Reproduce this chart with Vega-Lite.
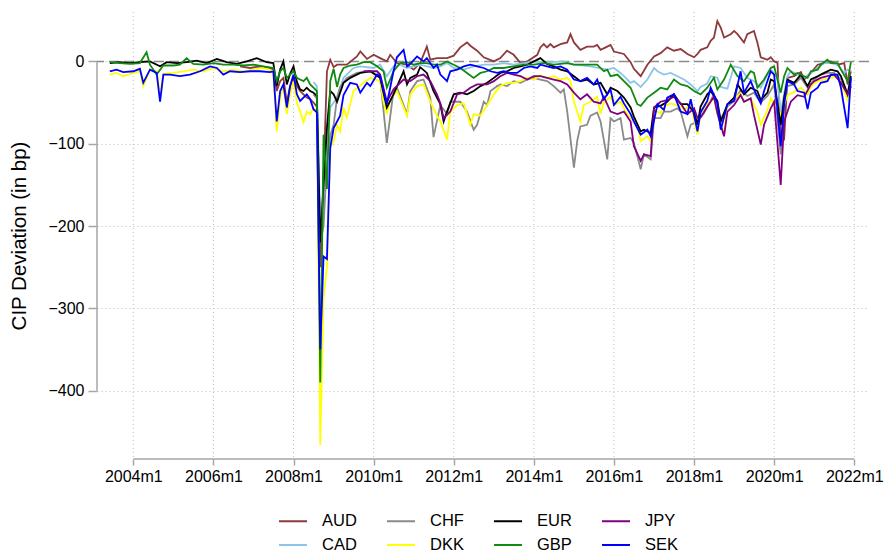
{
"$schema":"https://vega.github.io/schema/vega-lite/v6.json",
"width":772,"height":447,
"autosize":{"type":"none"},
"padding":{"left":97,"top":12,"right":16,"bottom":97},
"background":"white",
"config":{
 "font":"Liberation Sans",
 "view":{"stroke":null},
 "axis":{"domain":false,"grid":false,"gridColor":"#bdbdbd","gridDash":[1,3],"gridWidth":1,"tickColor":"#a6a6a6","tickWidth":1.5,"labelColor":"#000000","labelFontSize":16,"labelFont":"Liberation Sans","titleColor":"#000000","titleFont":"Liberation Sans","titleFontWeight":"normal"},
 "axisX":{"tickSize":6,"labelPadding":3},
 "axisY":{"tickSize":9,"labelPadding":4}
},
"layer":[
{"data":{"format":{"parse":{"g":"date:'%Y-%m'"}},"values":[{"g":"2004-01"},{"g":"2006-01"},{"g":"2008-01"},{"g":"2010-01"},{"g":"2012-01"},{"g":"2014-01"},{"g":"2016-01"},{"g":"2018-01"},{"g":"2020-01"},{"g":"2022-01"}]},"mark":{"type":"rule","color":"#bdbdbd","strokeDash":[1,3],"strokeWidth":1},"encoding":{"x":{"field":"g","type":"temporal"}}},
{"data":{"values":[{}]},"mark":{"type":"rule","color":"#8c8c8c","strokeDash":[10,5],"strokeWidth":1.5},"encoding":{"y":{"datum":0}}},
{"data":{"format":{"parse":{"t":"date:'%Y-%m'"}},"values":[
{"c":"AUD","t":"2006-09","v":-6},{"c":"AUD","t":"2006-12","v":-8},{"c":"AUD","t":"2007-03","v":-6},{"c":"AUD","t":"2007-06","v":-8},{"c":"AUD","t":"2007-07","v":-10},{"c":"AUD","t":"2007-08","v":-36},{"c":"AUD","t":"2007-09","v":-24},{"c":"AUD","t":"2007-10","v":-20},{"c":"AUD","t":"2007-11","v":-50},{"c":"AUD","t":"2007-12","v":-30},{"c":"AUD","t":"2008-01","v":-20},{"c":"AUD","t":"2008-02","v":-30},{"c":"AUD","t":"2008-03","v":-36},{"c":"AUD","t":"2008-04","v":-40},{"c":"AUD","t":"2008-05","v":-44},{"c":"AUD","t":"2008-06","v":-46},{"c":"AUD","t":"2008-07","v":-50},{"c":"AUD","t":"2008-08","v":-55},{"c":"AUD","t":"2008-09","v":-250},{"c":"AUD","t":"2008-10","v":-140},{"c":"AUD","t":"2008-11","v":-12},{"c":"AUD","t":"2008-12","v":2},{"c":"AUD","t":"2009-01","v":-7},{"c":"AUD","t":"2009-02","v":-4},{"c":"AUD","t":"2009-05","v":-4},{"c":"AUD","t":"2009-08","v":6},{"c":"AUD","t":"2009-09","v":12},{"c":"AUD","t":"2009-11","v":3},{"c":"AUD","t":"2010-01","v":8},{"c":"AUD","t":"2010-03","v":4},{"c":"AUD","t":"2010-05","v":0},{"c":"AUD","t":"2010-06","v":8},{"c":"AUD","t":"2010-08","v":-2},{"c":"AUD","t":"2010-11","v":-4},{"c":"AUD","t":"2011-01","v":-10},{"c":"AUD","t":"2011-03","v":-2},{"c":"AUD","t":"2011-05","v":18},{"c":"AUD","t":"2011-06","v":2},{"c":"AUD","t":"2011-08","v":4},{"c":"AUD","t":"2011-11","v":4},{"c":"AUD","t":"2012-01","v":7},{"c":"AUD","t":"2012-03","v":17},{"c":"AUD","t":"2012-05","v":23},{"c":"AUD","t":"2012-06","v":19},{"c":"AUD","t":"2012-08","v":13},{"c":"AUD","t":"2012-10","v":5},{"c":"AUD","t":"2013-01","v":0},{"c":"AUD","t":"2013-03","v":4},{"c":"AUD","t":"2013-05","v":13},{"c":"AUD","t":"2013-07","v":8},{"c":"AUD","t":"2013-09","v":-2},{"c":"AUD","t":"2013-11","v":0},{"c":"AUD","t":"2014-02","v":8},{"c":"AUD","t":"2014-03","v":17},{"c":"AUD","t":"2014-04","v":21},{"c":"AUD","t":"2014-05","v":17},{"c":"AUD","t":"2014-06","v":21},{"c":"AUD","t":"2014-07","v":17},{"c":"AUD","t":"2014-09","v":21},{"c":"AUD","t":"2014-11","v":23},{"c":"AUD","t":"2014-12","v":33},{"c":"AUD","t":"2015-01","v":23},{"c":"AUD","t":"2015-03","v":14},{"c":"AUD","t":"2015-05","v":18},{"c":"AUD","t":"2015-07","v":18},{"c":"AUD","t":"2015-08","v":20},{"c":"AUD","t":"2015-09","v":14},{"c":"AUD","t":"2015-11","v":18},{"c":"AUD","t":"2015-12","v":20},{"c":"AUD","t":"2016-01","v":12},{"c":"AUD","t":"2016-04","v":9},{"c":"AUD","t":"2016-06","v":-1},{"c":"AUD","t":"2016-07","v":-9},{"c":"AUD","t":"2016-09","v":-18},{"c":"AUD","t":"2016-11","v":-4},{"c":"AUD","t":"2017-01","v":6},{"c":"AUD","t":"2017-03","v":10},{"c":"AUD","t":"2017-05","v":17},{"c":"AUD","t":"2017-07","v":13},{"c":"AUD","t":"2017-09","v":15},{"c":"AUD","t":"2017-11","v":9},{"c":"AUD","t":"2018-01","v":5},{"c":"AUD","t":"2018-02","v":9},{"c":"AUD","t":"2018-03","v":14},{"c":"AUD","t":"2018-05","v":17},{"c":"AUD","t":"2018-06","v":25},{"c":"AUD","t":"2018-07","v":29},{"c":"AUD","t":"2018-08","v":49},{"c":"AUD","t":"2018-09","v":41},{"c":"AUD","t":"2018-10","v":29},{"c":"AUD","t":"2018-12","v":33},{"c":"AUD","t":"2019-01","v":37},{"c":"AUD","t":"2019-02","v":33},{"c":"AUD","t":"2019-04","v":23},{"c":"AUD","t":"2019-05","v":33},{"c":"AUD","t":"2019-07","v":37},{"c":"AUD","t":"2019-08","v":23},{"c":"AUD","t":"2019-09","v":5},{"c":"AUD","t":"2019-11","v":2},{"c":"AUD","t":"2019-12","v":5},{"c":"AUD","t":"2020-01","v":0},{"c":"AUD","t":"2020-02","v":-2},{"c":"AUD","t":"2020-03","v":-95},{"c":"AUD","t":"2020-04","v":-95},{"c":"AUD","t":"2020-05","v":-20},{"c":"AUD","t":"2020-07","v":-18},{"c":"AUD","t":"2020-09","v":-13},{"c":"AUD","t":"2020-10","v":-22},{"c":"AUD","t":"2020-12","v":-14},{"c":"AUD","t":"2021-02","v":-4},{"c":"AUD","t":"2021-04","v":-2},{"c":"AUD","t":"2021-06","v":0},{"c":"AUD","t":"2021-08","v":-4},{"c":"AUD","t":"2021-10","v":-2},{"c":"AUD","t":"2021-11","v":-28},{"c":"AUD","t":"2021-12","v":-12},
{"c":"CAD","t":"2008-07","v":-25},{"c":"CAD","t":"2008-08","v":-30},{"c":"CAD","t":"2008-09","v":-200},{"c":"CAD","t":"2008-10","v":-185},{"c":"CAD","t":"2008-11","v":-100},{"c":"CAD","t":"2008-12","v":-56},{"c":"CAD","t":"2009-02","v":-44},{"c":"CAD","t":"2009-04","v":-20},{"c":"CAD","t":"2009-07","v":-8},{"c":"CAD","t":"2009-09","v":-6},{"c":"CAD","t":"2010-01","v":-8},{"c":"CAD","t":"2010-03","v":-4},{"c":"CAD","t":"2010-05","v":-18},{"c":"CAD","t":"2010-07","v":-6},{"c":"CAD","t":"2010-09","v":-4},{"c":"CAD","t":"2010-11","v":-8},{"c":"CAD","t":"2011-01","v":-6},{"c":"CAD","t":"2011-03","v":-4},{"c":"CAD","t":"2011-05","v":-6},{"c":"CAD","t":"2011-07","v":-8},{"c":"CAD","t":"2011-09","v":-6},{"c":"CAD","t":"2011-11","v":-2},{"c":"CAD","t":"2012-01","v":-8},{"c":"CAD","t":"2012-04","v":-10},{"c":"CAD","t":"2012-07","v":-6},{"c":"CAD","t":"2012-10","v":-4},{"c":"CAD","t":"2013-01","v":-4},{"c":"CAD","t":"2013-04","v":-2},{"c":"CAD","t":"2013-07","v":-4},{"c":"CAD","t":"2013-10","v":-2},{"c":"CAD","t":"2014-01","v":0},{"c":"CAD","t":"2014-03","v":-1},{"c":"CAD","t":"2014-06","v":-1},{"c":"CAD","t":"2014-10","v":0},{"c":"CAD","t":"2015-01","v":-4},{"c":"CAD","t":"2015-06","v":-6},{"c":"CAD","t":"2015-11","v":-10},{"c":"CAD","t":"2016-01","v":-8},{"c":"CAD","t":"2016-03","v":-14},{"c":"CAD","t":"2016-04","v":-18},{"c":"CAD","t":"2016-06","v":-26},{"c":"CAD","t":"2016-07","v":-24},{"c":"CAD","t":"2016-09","v":-31},{"c":"CAD","t":"2016-11","v":-22},{"c":"CAD","t":"2017-01","v":-8},{"c":"CAD","t":"2017-02","v":-12},{"c":"CAD","t":"2017-04","v":-16},{"c":"CAD","t":"2017-06","v":-14},{"c":"CAD","t":"2017-08","v":-18},{"c":"CAD","t":"2017-10","v":-22},{"c":"CAD","t":"2017-12","v":-28},{"c":"CAD","t":"2018-02","v":-36},{"c":"CAD","t":"2018-03","v":-31},{"c":"CAD","t":"2018-05","v":-27},{"c":"CAD","t":"2018-06","v":-18},{"c":"CAD","t":"2018-08","v":-20},{"c":"CAD","t":"2018-09","v":-31},{"c":"CAD","t":"2018-11","v":-33},{"c":"CAD","t":"2019-01","v":-6},{"c":"CAD","t":"2019-03","v":-8},{"c":"CAD","t":"2019-05","v":-20},{"c":"CAD","t":"2019-07","v":-24},{"c":"CAD","t":"2019-09","v":-32},{"c":"CAD","t":"2019-11","v":-16},{"c":"CAD","t":"2019-12","v":-10},{"c":"CAD","t":"2020-02","v":-20},{"c":"CAD","t":"2020-03","v":-64},{"c":"CAD","t":"2020-04","v":-39},{"c":"CAD","t":"2020-05","v":-18},{"c":"CAD","t":"2020-06","v":-12},{"c":"CAD","t":"2020-08","v":-16},{"c":"CAD","t":"2020-10","v":-20},{"c":"CAD","t":"2020-12","v":-14},{"c":"CAD","t":"2021-02","v":-8},{"c":"CAD","t":"2021-04","v":-2},{"c":"CAD","t":"2021-06","v":-2},{"c":"CAD","t":"2021-08","v":-4},{"c":"CAD","t":"2021-10","v":-14},{"c":"CAD","t":"2021-11","v":-10},{"c":"CAD","t":"2021-12","v":-12},
{"c":"CHF","t":"2008-07","v":-40},{"c":"CHF","t":"2008-08","v":-45},{"c":"CHF","t":"2008-09","v":-220},{"c":"CHF","t":"2008-10","v":-200},{"c":"CHF","t":"2008-11","v":-120},{"c":"CHF","t":"2008-12","v":-90},{"c":"CHF","t":"2009-01","v":-77},{"c":"CHF","t":"2009-02","v":-44},{"c":"CHF","t":"2009-03","v":-31},{"c":"CHF","t":"2009-05","v":-20},{"c":"CHF","t":"2009-08","v":-14},{"c":"CHF","t":"2009-12","v":-12},{"c":"CHF","t":"2010-03","v":-20},{"c":"CHF","t":"2010-05","v":-99},{"c":"CHF","t":"2010-07","v":-36},{"c":"CHF","t":"2010-08","v":-32},{"c":"CHF","t":"2010-11","v":-64},{"c":"CHF","t":"2010-12","v":-36},{"c":"CHF","t":"2011-02","v":-24},{"c":"CHF","t":"2011-04","v":-22},{"c":"CHF","t":"2011-06","v":-44},{"c":"CHF","t":"2011-07","v":-92},{"c":"CHF","t":"2011-09","v":-53},{"c":"CHF","t":"2011-11","v":-64},{"c":"CHF","t":"2011-12","v":-49},{"c":"CHF","t":"2012-03","v":-49},{"c":"CHF","t":"2012-05","v":-61},{"c":"CHF","t":"2012-07","v":-83},{"c":"CHF","t":"2012-08","v":-77},{"c":"CHF","t":"2012-10","v":-49},{"c":"CHF","t":"2012-11","v":-53},{"c":"CHF","t":"2012-12","v":-36},{"c":"CHF","t":"2013-02","v":-30},{"c":"CHF","t":"2013-03","v":-28},{"c":"CHF","t":"2013-05","v":-30},{"c":"CHF","t":"2013-07","v":-24},{"c":"CHF","t":"2013-09","v":-26},{"c":"CHF","t":"2013-11","v":-22},{"c":"CHF","t":"2014-01","v":-20},{"c":"CHF","t":"2014-03","v":-22},{"c":"CHF","t":"2014-05","v":-24},{"c":"CHF","t":"2014-07","v":-30},{"c":"CHF","t":"2014-09","v":-38},{"c":"CHF","t":"2014-10","v":-34},{"c":"CHF","t":"2014-11","v":-61},{"c":"CHF","t":"2015-01","v":-129},{"c":"CHF","t":"2015-02","v":-96},{"c":"CHF","t":"2015-03","v":-79},{"c":"CHF","t":"2015-05","v":-77},{"c":"CHF","t":"2015-06","v":-66},{"c":"CHF","t":"2015-08","v":-62},{"c":"CHF","t":"2015-09","v":-73},{"c":"CHF","t":"2015-11","v":-119},{"c":"CHF","t":"2015-12","v":-69},{"c":"CHF","t":"2016-01","v":-73},{"c":"CHF","t":"2016-03","v":-69},{"c":"CHF","t":"2016-04","v":-95},{"c":"CHF","t":"2016-06","v":-93},{"c":"CHF","t":"2016-07","v":-99},{"c":"CHF","t":"2016-09","v":-131},{"c":"CHF","t":"2016-10","v":-113},{"c":"CHF","t":"2016-12","v":-119},{"c":"CHF","t":"2017-01","v":-69},{"c":"CHF","t":"2017-03","v":-69},{"c":"CHF","t":"2017-04","v":-61},{"c":"CHF","t":"2017-06","v":-61},{"c":"CHF","t":"2017-08","v":-57},{"c":"CHF","t":"2017-09","v":-61},{"c":"CHF","t":"2017-11","v":-91},{"c":"CHF","t":"2017-12","v":-77},{"c":"CHF","t":"2018-02","v":-73},{"c":"CHF","t":"2018-04","v":-63},{"c":"CHF","t":"2018-05","v":-55},{"c":"CHF","t":"2018-07","v":-40},{"c":"CHF","t":"2018-09","v":-70},{"c":"CHF","t":"2018-11","v":-55},{"c":"CHF","t":"2019-01","v":-48},{"c":"CHF","t":"2019-03","v":-35},{"c":"CHF","t":"2019-05","v":-42},{"c":"CHF","t":"2019-07","v":-38},{"c":"CHF","t":"2019-09","v":-50},{"c":"CHF","t":"2019-11","v":-42},{"c":"CHF","t":"2020-01","v":-28},{"c":"CHF","t":"2020-03","v":-113},{"c":"CHF","t":"2020-04","v":-50},{"c":"CHF","t":"2020-05","v":-30},{"c":"CHF","t":"2020-07","v":-28},{"c":"CHF","t":"2020-09","v":-20},{"c":"CHF","t":"2020-11","v":-32},{"c":"CHF","t":"2021-01","v":-22},{"c":"CHF","t":"2021-03","v":-16},{"c":"CHF","t":"2021-05","v":-14},{"c":"CHF","t":"2021-07","v":-14},{"c":"CHF","t":"2021-09","v":-22},{"c":"CHF","t":"2021-11","v":-42},{"c":"CHF","t":"2021-12","v":-22},
{"c":"DKK","t":"2003-06","v":-16},{"c":"DKK","t":"2003-08","v":-14},{"c":"DKK","t":"2003-10","v":-18},{"c":"DKK","t":"2004-01","v":-14},{"c":"DKK","t":"2004-03","v":-12},{"c":"DKK","t":"2004-04","v":-30},{"c":"DKK","t":"2004-06","v":-10},{"c":"DKK","t":"2004-08","v":-12},{"c":"DKK","t":"2004-09","v":-40},{"c":"DKK","t":"2004-10","v":-15},{"c":"DKK","t":"2005-01","v":-14},{"c":"DKK","t":"2005-04","v":-12},{"c":"DKK","t":"2005-07","v":-10},{"c":"DKK","t":"2005-10","v":-12},{"c":"DKK","t":"2006-01","v":-8},{"c":"DKK","t":"2006-04","v":-12},{"c":"DKK","t":"2006-07","v":-10},{"c":"DKK","t":"2006-10","v":-12},{"c":"DKK","t":"2007-01","v":-10},{"c":"DKK","t":"2007-04","v":-8},{"c":"DKK","t":"2007-07","v":-12},{"c":"DKK","t":"2007-08","v":-85},{"c":"DKK","t":"2007-09","v":-44},{"c":"DKK","t":"2007-10","v":-30},{"c":"DKK","t":"2007-11","v":-64},{"c":"DKK","t":"2007-12","v":-40},{"c":"DKK","t":"2008-01","v":-24},{"c":"DKK","t":"2008-02","v":-50},{"c":"DKK","t":"2008-03","v":-61},{"c":"DKK","t":"2008-04","v":-74},{"c":"DKK","t":"2008-05","v":-61},{"c":"DKK","t":"2008-06","v":-64},{"c":"DKK","t":"2008-07","v":-57},{"c":"DKK","t":"2008-08","v":-62},{"c":"DKK","t":"2008-09","v":-466},{"c":"DKK","t":"2008-10","v":-286},{"c":"DKK","t":"2008-11","v":-250},{"c":"DKK","t":"2008-12","v":-105},{"c":"DKK","t":"2009-01","v":-97},{"c":"DKK","t":"2009-02","v":-77},{"c":"DKK","t":"2009-03","v":-85},{"c":"DKK","t":"2009-04","v":-56},{"c":"DKK","t":"2009-05","v":-68},{"c":"DKK","t":"2009-07","v":-36},{"c":"DKK","t":"2009-10","v":-26},{"c":"DKK","t":"2009-12","v":-20},{"c":"DKK","t":"2010-03","v":-24},{"c":"DKK","t":"2010-04","v":-49},{"c":"DKK","t":"2010-05","v":-64},{"c":"DKK","t":"2010-06","v":-46},{"c":"DKK","t":"2010-08","v":-36},{"c":"DKK","t":"2010-11","v":-66},{"c":"DKK","t":"2010-12","v":-40},{"c":"DKK","t":"2011-02","v":-30},{"c":"DKK","t":"2011-04","v":-28},{"c":"DKK","t":"2011-06","v":-49},{"c":"DKK","t":"2011-08","v":-66},{"c":"DKK","t":"2011-09","v":-73},{"c":"DKK","t":"2011-11","v":-95},{"c":"DKK","t":"2011-12","v":-61},{"c":"DKK","t":"2012-02","v":-53},{"c":"DKK","t":"2012-04","v":-51},{"c":"DKK","t":"2012-06","v":-77},{"c":"DKK","t":"2012-07","v":-64},{"c":"DKK","t":"2012-09","v":-66},{"c":"DKK","t":"2012-11","v":-53},{"c":"DKK","t":"2013-01","v":-40},{"c":"DKK","t":"2013-03","v":-30},{"c":"DKK","t":"2013-05","v":-26},{"c":"DKK","t":"2013-07","v":-26},{"c":"DKK","t":"2013-09","v":-24},{"c":"DKK","t":"2013-11","v":-20},{"c":"DKK","t":"2014-01","v":-22},{"c":"DKK","t":"2014-03","v":-17},{"c":"DKK","t":"2014-05","v":-20},{"c":"DKK","t":"2014-07","v":-18},{"c":"DKK","t":"2014-09","v":-22},{"c":"DKK","t":"2014-11","v":-20},{"c":"DKK","t":"2014-12","v":-24},{"c":"DKK","t":"2015-01","v":-49},{"c":"DKK","t":"2015-03","v":-73},{"c":"DKK","t":"2015-04","v":-53},{"c":"DKK","t":"2015-06","v":-49},{"c":"DKK","t":"2015-08","v":-43},{"c":"DKK","t":"2015-09","v":-64},{"c":"DKK","t":"2015-10","v":-50},{"c":"DKK","t":"2015-12","v":-43},{"c":"DKK","t":"2016-01","v":-53},{"c":"DKK","t":"2016-03","v":-49},{"c":"DKK","t":"2016-05","v":-64},{"c":"DKK","t":"2016-07","v":-73},{"c":"DKK","t":"2016-08","v":-77},{"c":"DKK","t":"2016-09","v":-97},{"c":"DKK","t":"2016-11","v":-91},{"c":"DKK","t":"2016-12","v":-97},{"c":"DKK","t":"2017-01","v":-59},{"c":"DKK","t":"2017-03","v":-63},{"c":"DKK","t":"2017-04","v":-55},{"c":"DKK","t":"2017-06","v":-51},{"c":"DKK","t":"2017-09","v":-55},{"c":"DKK","t":"2017-10","v":-59},{"c":"DKK","t":"2017-12","v":-53},{"c":"DKK","t":"2018-02","v":-89},{"c":"DKK","t":"2018-03","v":-63},{"c":"DKK","t":"2018-05","v":-51},{"c":"DKK","t":"2018-07","v":-45},{"c":"DKK","t":"2018-08","v":-63},{"c":"DKK","t":"2018-10","v":-89},{"c":"DKK","t":"2018-11","v":-53},{"c":"DKK","t":"2019-01","v":-45},{"c":"DKK","t":"2019-03","v":-39},{"c":"DKK","t":"2019-04","v":-49},{"c":"DKK","t":"2019-06","v":-45},{"c":"DKK","t":"2019-08","v":-61},{"c":"DKK","t":"2019-09","v":-77},{"c":"DKK","t":"2019-11","v":-59},{"c":"DKK","t":"2019-12","v":-45},{"c":"DKK","t":"2020-02","v":-57},{"c":"DKK","t":"2020-03","v":-65},{"c":"DKK","t":"2020-05","v":-41},{"c":"DKK","t":"2020-07","v":-37},{"c":"DKK","t":"2020-09","v":-32},{"c":"DKK","t":"2020-11","v":-41},{"c":"DKK","t":"2020-12","v":-30},{"c":"DKK","t":"2021-02","v":-24},{"c":"DKK","t":"2021-04","v":-22},{"c":"DKK","t":"2021-06","v":-20},{"c":"DKK","t":"2021-08","v":-18},{"c":"DKK","t":"2021-09","v":-26},{"c":"DKK","t":"2021-11","v":-47},{"c":"DKK","t":"2021-12","v":-30},
{"c":"EUR","t":"2003-06","v":-2},{"c":"EUR","t":"2003-09","v":-1},{"c":"EUR","t":"2003-12","v":-2},{"c":"EUR","t":"2004-03","v":-1},{"c":"EUR","t":"2004-06","v":0},{"c":"EUR","t":"2004-09","v":-6},{"c":"EUR","t":"2004-11","v":-1},{"c":"EUR","t":"2005-02","v":-2},{"c":"EUR","t":"2005-05","v":-1},{"c":"EUR","t":"2005-08","v":1},{"c":"EUR","t":"2005-11","v":-2},{"c":"EUR","t":"2006-02","v":3},{"c":"EUR","t":"2006-05","v":-1},{"c":"EUR","t":"2006-08","v":-3},{"c":"EUR","t":"2006-11","v":0},{"c":"EUR","t":"2007-02","v":4},{"c":"EUR","t":"2007-05","v":-1},{"c":"EUR","t":"2007-07","v":-2},{"c":"EUR","t":"2007-08","v":-30},{"c":"EUR","t":"2007-09","v":-10},{"c":"EUR","t":"2007-10","v":0},{"c":"EUR","t":"2007-11","v":-28},{"c":"EUR","t":"2007-12","v":-15},{"c":"EUR","t":"2008-01","v":-6},{"c":"EUR","t":"2008-02","v":-25},{"c":"EUR","t":"2008-03","v":-34},{"c":"EUR","t":"2008-04","v":-36},{"c":"EUR","t":"2008-05","v":-32},{"c":"EUR","t":"2008-06","v":-36},{"c":"EUR","t":"2008-07","v":-38},{"c":"EUR","t":"2008-08","v":-42},{"c":"EUR","t":"2008-09","v":-220},{"c":"EUR","t":"2008-10","v":-150},{"c":"EUR","t":"2008-11","v":-80},{"c":"EUR","t":"2008-12","v":-36},{"c":"EUR","t":"2009-01","v":-40},{"c":"EUR","t":"2009-02","v":-49},{"c":"EUR","t":"2009-04","v":-26},{"c":"EUR","t":"2009-06","v":-20},{"c":"EUR","t":"2009-09","v":-14},{"c":"EUR","t":"2009-12","v":-12},{"c":"EUR","t":"2010-03","v":-20},{"c":"EUR","t":"2010-05","v":-56},{"c":"EUR","t":"2010-07","v":-40},{"c":"EUR","t":"2010-10","v":-12},{"c":"EUR","t":"2010-11","v":-28},{"c":"EUR","t":"2010-12","v":-20},{"c":"EUR","t":"2011-02","v":-16},{"c":"EUR","t":"2011-03","v":-7},{"c":"EUR","t":"2011-05","v":-14},{"c":"EUR","t":"2011-07","v":-36},{"c":"EUR","t":"2011-09","v":-52},{"c":"EUR","t":"2011-10","v":-73},{"c":"EUR","t":"2011-11","v":-61},{"c":"EUR","t":"2012-01","v":-40},{"c":"EUR","t":"2012-03","v":-38},{"c":"EUR","t":"2012-05","v":-40},{"c":"EUR","t":"2012-07","v":-36},{"c":"EUR","t":"2012-09","v":-30},{"c":"EUR","t":"2012-11","v":-26},{"c":"EUR","t":"2013-01","v":-20},{"c":"EUR","t":"2013-03","v":-14},{"c":"EUR","t":"2013-05","v":-12},{"c":"EUR","t":"2013-07","v":-8},{"c":"EUR","t":"2013-09","v":-6},{"c":"EUR","t":"2013-11","v":-4},{"c":"EUR","t":"2014-01","v":0},{"c":"EUR","t":"2014-03","v":4},{"c":"EUR","t":"2014-05","v":-3},{"c":"EUR","t":"2014-07","v":-6},{"c":"EUR","t":"2014-09","v":-10},{"c":"EUR","t":"2014-11","v":-12},{"c":"EUR","t":"2015-01","v":-18},{"c":"EUR","t":"2015-03","v":-24},{"c":"EUR","t":"2015-05","v":-22},{"c":"EUR","t":"2015-07","v":-28},{"c":"EUR","t":"2015-09","v":-26},{"c":"EUR","t":"2015-11","v":-40},{"c":"EUR","t":"2015-12","v":-32},{"c":"EUR","t":"2016-02","v":-36},{"c":"EUR","t":"2016-04","v":-44},{"c":"EUR","t":"2016-06","v":-56},{"c":"EUR","t":"2016-07","v":-67},{"c":"EUR","t":"2016-09","v":-85},{"c":"EUR","t":"2016-10","v":-83},{"c":"EUR","t":"2016-12","v":-87},{"c":"EUR","t":"2017-01","v":-56},{"c":"EUR","t":"2017-03","v":-54},{"c":"EUR","t":"2017-05","v":-49},{"c":"EUR","t":"2017-07","v":-40},{"c":"EUR","t":"2017-09","v":-52},{"c":"EUR","t":"2017-11","v":-52},{"c":"EUR","t":"2018-01","v":-62},{"c":"EUR","t":"2018-02","v":-77},{"c":"EUR","t":"2018-03","v":-55},{"c":"EUR","t":"2018-05","v":-40},{"c":"EUR","t":"2018-06","v":-36},{"c":"EUR","t":"2018-08","v":-48},{"c":"EUR","t":"2018-09","v":-73},{"c":"EUR","t":"2018-11","v":-52},{"c":"EUR","t":"2019-01","v":-44},{"c":"EUR","t":"2019-02","v":-28},{"c":"EUR","t":"2019-04","v":-40},{"c":"EUR","t":"2019-06","v":-32},{"c":"EUR","t":"2019-08","v":-36},{"c":"EUR","t":"2019-09","v":-47},{"c":"EUR","t":"2019-11","v":-38},{"c":"EUR","t":"2019-12","v":-22},{"c":"EUR","t":"2020-01","v":-24},{"c":"EUR","t":"2020-03","v":-77},{"c":"EUR","t":"2020-04","v":-44},{"c":"EUR","t":"2020-05","v":-22},{"c":"EUR","t":"2020-07","v":-26},{"c":"EUR","t":"2020-09","v":-16},{"c":"EUR","t":"2020-11","v":-30},{"c":"EUR","t":"2020-12","v":-22},{"c":"EUR","t":"2021-02","v":-18},{"c":"EUR","t":"2021-04","v":-14},{"c":"EUR","t":"2021-06","v":-10},{"c":"EUR","t":"2021-08","v":-12},{"c":"EUR","t":"2021-09","v":-18},{"c":"EUR","t":"2021-11","v":-40},{"c":"EUR","t":"2021-12","v":-18},
{"c":"GBP","t":"2003-06","v":-1},{"c":"GBP","t":"2003-09","v":-2},{"c":"GBP","t":"2003-12","v":-3},{"c":"GBP","t":"2004-03","v":-2},{"c":"GBP","t":"2004-05","v":11},{"c":"GBP","t":"2004-06","v":-4},{"c":"GBP","t":"2004-08","v":-16},{"c":"GBP","t":"2004-10","v":-5},{"c":"GBP","t":"2005-01","v":-5},{"c":"GBP","t":"2005-03","v":-4},{"c":"GBP","t":"2005-05","v":4},{"c":"GBP","t":"2005-07","v":-3},{"c":"GBP","t":"2005-10","v":-4},{"c":"GBP","t":"2006-01","v":-2},{"c":"GBP","t":"2006-04","v":-4},{"c":"GBP","t":"2006-07","v":-4},{"c":"GBP","t":"2006-10","v":-5},{"c":"GBP","t":"2007-01","v":-4},{"c":"GBP","t":"2007-04","v":-6},{"c":"GBP","t":"2007-07","v":-8},{"c":"GBP","t":"2007-08","v":-24},{"c":"GBP","t":"2007-09","v":-12},{"c":"GBP","t":"2007-10","v":-8},{"c":"GBP","t":"2007-11","v":-20},{"c":"GBP","t":"2007-12","v":-16},{"c":"GBP","t":"2008-01","v":-12},{"c":"GBP","t":"2008-02","v":-20},{"c":"GBP","t":"2008-03","v":-22},{"c":"GBP","t":"2008-04","v":-24},{"c":"GBP","t":"2008-05","v":-20},{"c":"GBP","t":"2008-06","v":-28},{"c":"GBP","t":"2008-07","v":-32},{"c":"GBP","t":"2008-08","v":-36},{"c":"GBP","t":"2008-09","v":-390},{"c":"GBP","t":"2008-10","v":-89},{"c":"GBP","t":"2008-11","v":-155},{"c":"GBP","t":"2008-12","v":-24},{"c":"GBP","t":"2009-01","v":-9},{"c":"GBP","t":"2009-02","v":-31},{"c":"GBP","t":"2009-03","v":-16},{"c":"GBP","t":"2009-04","v":-8},{"c":"GBP","t":"2009-06","v":-5},{"c":"GBP","t":"2009-08","v":-4},{"c":"GBP","t":"2009-10","v":-1},{"c":"GBP","t":"2009-12","v":-1},{"c":"GBP","t":"2010-02","v":-6},{"c":"GBP","t":"2010-04","v":-12},{"c":"GBP","t":"2010-05","v":-32},{"c":"GBP","t":"2010-07","v":-12},{"c":"GBP","t":"2010-09","v":-2},{"c":"GBP","t":"2010-11","v":-1},{"c":"GBP","t":"2011-01","v":-4},{"c":"GBP","t":"2011-03","v":-2},{"c":"GBP","t":"2011-05","v":-2},{"c":"GBP","t":"2011-07","v":-4},{"c":"GBP","t":"2011-09","v":-4},{"c":"GBP","t":"2011-11","v":0},{"c":"GBP","t":"2012-01","v":-4},{"c":"GBP","t":"2012-03","v":-8},{"c":"GBP","t":"2012-05","v":-14},{"c":"GBP","t":"2012-07","v":-20},{"c":"GBP","t":"2012-09","v":-14},{"c":"GBP","t":"2012-11","v":-12},{"c":"GBP","t":"2013-01","v":-8},{"c":"GBP","t":"2013-04","v":-8},{"c":"GBP","t":"2013-07","v":-6},{"c":"GBP","t":"2013-10","v":-4},{"c":"GBP","t":"2014-01","v":-4},{"c":"GBP","t":"2014-04","v":-2},{"c":"GBP","t":"2014-07","v":-4},{"c":"GBP","t":"2014-11","v":-2},{"c":"GBP","t":"2015-01","v":-4},{"c":"GBP","t":"2015-04","v":-4},{"c":"GBP","t":"2015-08","v":-4},{"c":"GBP","t":"2015-10","v":-12},{"c":"GBP","t":"2015-11","v":-10},{"c":"GBP","t":"2015-12","v":-18},{"c":"GBP","t":"2016-02","v":-16},{"c":"GBP","t":"2016-04","v":-24},{"c":"GBP","t":"2016-06","v":-32},{"c":"GBP","t":"2016-08","v":-52},{"c":"GBP","t":"2016-09","v":-54},{"c":"GBP","t":"2016-11","v":-44},{"c":"GBP","t":"2017-01","v":-38},{"c":"GBP","t":"2017-03","v":-32},{"c":"GBP","t":"2017-05","v":-34},{"c":"GBP","t":"2017-07","v":-22},{"c":"GBP","t":"2017-09","v":-28},{"c":"GBP","t":"2017-11","v":-30},{"c":"GBP","t":"2018-01","v":-36},{"c":"GBP","t":"2018-03","v":-40},{"c":"GBP","t":"2018-05","v":-32},{"c":"GBP","t":"2018-07","v":-20},{"c":"GBP","t":"2018-08","v":-34},{"c":"GBP","t":"2018-10","v":-22},{"c":"GBP","t":"2018-12","v":-4},{"c":"GBP","t":"2019-02","v":-18},{"c":"GBP","t":"2019-04","v":-24},{"c":"GBP","t":"2019-06","v":-12},{"c":"GBP","t":"2019-07","v":-14},{"c":"GBP","t":"2019-08","v":-32},{"c":"GBP","t":"2019-10","v":-22},{"c":"GBP","t":"2019-12","v":-8},{"c":"GBP","t":"2020-01","v":-6},{"c":"GBP","t":"2020-03","v":-38},{"c":"GBP","t":"2020-04","v":-18},{"c":"GBP","t":"2020-05","v":-8},{"c":"GBP","t":"2020-07","v":-16},{"c":"GBP","t":"2020-08","v":-14},{"c":"GBP","t":"2020-10","v":-18},{"c":"GBP","t":"2020-11","v":-20},{"c":"GBP","t":"2020-12","v":-12},{"c":"GBP","t":"2021-02","v":-10},{"c":"GBP","t":"2021-03","v":-4},{"c":"GBP","t":"2021-05","v":2},{"c":"GBP","t":"2021-06","v":-2},{"c":"GBP","t":"2021-08","v":-2},{"c":"GBP","t":"2021-09","v":-10},{"c":"GBP","t":"2021-11","v":-24},{"c":"GBP","t":"2021-12","v":-1},
{"c":"JPY","t":"2009-10","v":-12},{"c":"JPY","t":"2009-12","v":-12},{"c":"JPY","t":"2010-02","v":-12},{"c":"JPY","t":"2010-03","v":-16},{"c":"JPY","t":"2010-05","v":-49},{"c":"JPY","t":"2010-07","v":-34},{"c":"JPY","t":"2010-10","v":-22},{"c":"JPY","t":"2010-12","v":-24},{"c":"JPY","t":"2011-02","v":-18},{"c":"JPY","t":"2011-04","v":-16},{"c":"JPY","t":"2011-06","v":-24},{"c":"JPY","t":"2011-08","v":-40},{"c":"JPY","t":"2011-09","v":-51},{"c":"JPY","t":"2011-10","v":-69},{"c":"JPY","t":"2011-12","v":-61},{"c":"JPY","t":"2012-02","v":-40},{"c":"JPY","t":"2012-04","v":-38},{"c":"JPY","t":"2012-06","v":-32},{"c":"JPY","t":"2012-08","v":-28},{"c":"JPY","t":"2012-11","v":-28},{"c":"JPY","t":"2013-01","v":-24},{"c":"JPY","t":"2013-03","v":-18},{"c":"JPY","t":"2013-05","v":-14},{"c":"JPY","t":"2013-07","v":-16},{"c":"JPY","t":"2013-09","v":-18},{"c":"JPY","t":"2013-11","v":-22},{"c":"JPY","t":"2014-01","v":-18},{"c":"JPY","t":"2014-03","v":-18},{"c":"JPY","t":"2014-05","v":-20},{"c":"JPY","t":"2014-07","v":-22},{"c":"JPY","t":"2014-09","v":-24},{"c":"JPY","t":"2014-11","v":-28},{"c":"JPY","t":"2015-01","v":-38},{"c":"JPY","t":"2015-03","v":-46},{"c":"JPY","t":"2015-05","v":-40},{"c":"JPY","t":"2015-07","v":-49},{"c":"JPY","t":"2015-09","v":-51},{"c":"JPY","t":"2015-10","v":-43},{"c":"JPY","t":"2015-12","v":-61},{"c":"JPY","t":"2016-02","v":-64},{"c":"JPY","t":"2016-04","v":-61},{"c":"JPY","t":"2016-06","v":-73},{"c":"JPY","t":"2016-07","v":-103},{"c":"JPY","t":"2016-09","v":-121},{"c":"JPY","t":"2016-10","v":-113},{"c":"JPY","t":"2016-12","v":-115},{"c":"JPY","t":"2017-01","v":-56},{"c":"JPY","t":"2017-03","v":-49},{"c":"JPY","t":"2017-05","v":-47},{"c":"JPY","t":"2017-07","v":-43},{"c":"JPY","t":"2017-09","v":-51},{"c":"JPY","t":"2017-11","v":-64},{"c":"JPY","t":"2018-01","v":-57},{"c":"JPY","t":"2018-02","v":-69},{"c":"JPY","t":"2018-03","v":-68},{"c":"JPY","t":"2018-05","v":-55},{"c":"JPY","t":"2018-07","v":-43},{"c":"JPY","t":"2018-08","v":-63},{"c":"JPY","t":"2018-10","v":-91},{"c":"JPY","t":"2018-11","v":-61},{"c":"JPY","t":"2019-01","v":-53},{"c":"JPY","t":"2019-03","v":-41},{"c":"JPY","t":"2019-04","v":-49},{"c":"JPY","t":"2019-06","v":-45},{"c":"JPY","t":"2019-07","v":-65},{"c":"JPY","t":"2019-09","v":-101},{"c":"JPY","t":"2019-10","v":-77},{"c":"JPY","t":"2019-12","v":-57},{"c":"JPY","t":"2020-01","v":-49},{"c":"JPY","t":"2020-03","v":-150},{"c":"JPY","t":"2020-04","v":-73},{"c":"JPY","t":"2020-06","v":-49},{"c":"JPY","t":"2020-08","v":-41},{"c":"JPY","t":"2020-10","v":-43},{"c":"JPY","t":"2020-12","v":-28},{"c":"JPY","t":"2021-01","v":-24},{"c":"JPY","t":"2021-03","v":-20},{"c":"JPY","t":"2021-05","v":-18},{"c":"JPY","t":"2021-07","v":-16},{"c":"JPY","t":"2021-09","v":-26},{"c":"JPY","t":"2021-11","v":-40},{"c":"JPY","t":"2021-12","v":-30},
{"c":"SEK","t":"2003-06","v":-12},{"c":"SEK","t":"2003-08","v":-10},{"c":"SEK","t":"2003-10","v":-13},{"c":"SEK","t":"2004-01","v":-12},{"c":"SEK","t":"2004-03","v":-9},{"c":"SEK","t":"2004-04","v":-26},{"c":"SEK","t":"2004-06","v":-10},{"c":"SEK","t":"2004-08","v":-14},{"c":"SEK","t":"2004-09","v":-49},{"c":"SEK","t":"2004-10","v":-16},{"c":"SEK","t":"2004-12","v":-16},{"c":"SEK","t":"2005-03","v":-18},{"c":"SEK","t":"2005-06","v":-16},{"c":"SEK","t":"2005-09","v":-12},{"c":"SEK","t":"2005-12","v":-6},{"c":"SEK","t":"2006-02","v":-8},{"c":"SEK","t":"2006-04","v":-16},{"c":"SEK","t":"2006-06","v":-12},{"c":"SEK","t":"2006-09","v":-13},{"c":"SEK","t":"2006-12","v":-12},{"c":"SEK","t":"2007-03","v":-12},{"c":"SEK","t":"2007-06","v":-13},{"c":"SEK","t":"2007-07","v":-12},{"c":"SEK","t":"2007-08","v":-73},{"c":"SEK","t":"2007-09","v":-36},{"c":"SEK","t":"2007-10","v":-28},{"c":"SEK","t":"2007-11","v":-56},{"c":"SEK","t":"2007-12","v":-30},{"c":"SEK","t":"2008-01","v":-16},{"c":"SEK","t":"2008-02","v":-40},{"c":"SEK","t":"2008-03","v":-48},{"c":"SEK","t":"2008-04","v":-44},{"c":"SEK","t":"2008-05","v":-40},{"c":"SEK","t":"2008-06","v":-46},{"c":"SEK","t":"2008-07","v":-58},{"c":"SEK","t":"2008-08","v":-62},{"c":"SEK","t":"2008-09","v":-350},{"c":"SEK","t":"2008-10","v":-237},{"c":"SEK","t":"2008-11","v":-240},{"c":"SEK","t":"2008-12","v":-105},{"c":"SEK","t":"2009-01","v":-81},{"c":"SEK","t":"2009-03","v":-66},{"c":"SEK","t":"2009-04","v":-41},{"c":"SEK","t":"2009-06","v":-26},{"c":"SEK","t":"2009-08","v":-28},{"c":"SEK","t":"2009-09","v":-38},{"c":"SEK","t":"2009-11","v":-26},{"c":"SEK","t":"2009-12","v":-30},{"c":"SEK","t":"2010-02","v":-16},{"c":"SEK","t":"2010-03","v":-18},{"c":"SEK","t":"2010-05","v":-52},{"c":"SEK","t":"2010-07","v":-12},{"c":"SEK","t":"2010-08","v":5},{"c":"SEK","t":"2010-10","v":14},{"c":"SEK","t":"2010-11","v":-6},{"c":"SEK","t":"2010-12","v":-3},{"c":"SEK","t":"2011-02","v":6},{"c":"SEK","t":"2011-04","v":0},{"c":"SEK","t":"2011-05","v":4},{"c":"SEK","t":"2011-07","v":-8},{"c":"SEK","t":"2011-08","v":-4},{"c":"SEK","t":"2011-09","v":-16},{"c":"SEK","t":"2011-11","v":-24},{"c":"SEK","t":"2011-12","v":-12},{"c":"SEK","t":"2012-02","v":-10},{"c":"SEK","t":"2012-04","v":-6},{"c":"SEK","t":"2012-06","v":-4},{"c":"SEK","t":"2012-08","v":-6},{"c":"SEK","t":"2012-10","v":-8},{"c":"SEK","t":"2012-12","v":-12},{"c":"SEK","t":"2013-02","v":-14},{"c":"SEK","t":"2013-04","v":-12},{"c":"SEK","t":"2013-06","v":-14},{"c":"SEK","t":"2013-08","v":-14},{"c":"SEK","t":"2013-10","v":-8},{"c":"SEK","t":"2013-12","v":-6},{"c":"SEK","t":"2014-02","v":-8},{"c":"SEK","t":"2014-03","v":-4},{"c":"SEK","t":"2014-05","v":-6},{"c":"SEK","t":"2014-07","v":-8},{"c":"SEK","t":"2014-09","v":-6},{"c":"SEK","t":"2014-11","v":-10},{"c":"SEK","t":"2015-01","v":-22},{"c":"SEK","t":"2015-03","v":-24},{"c":"SEK","t":"2015-05","v":-20},{"c":"SEK","t":"2015-07","v":-28},{"c":"SEK","t":"2015-08","v":-22},{"c":"SEK","t":"2015-10","v":-46},{"c":"SEK","t":"2015-12","v":-34},{"c":"SEK","t":"2016-01","v":-53},{"c":"SEK","t":"2016-03","v":-43},{"c":"SEK","t":"2016-04","v":-51},{"c":"SEK","t":"2016-06","v":-64},{"c":"SEK","t":"2016-07","v":-73},{"c":"SEK","t":"2016-09","v":-89},{"c":"SEK","t":"2016-11","v":-83},{"c":"SEK","t":"2016-12","v":-91},{"c":"SEK","t":"2017-02","v":-52},{"c":"SEK","t":"2017-04","v":-59},{"c":"SEK","t":"2017-05","v":-44},{"c":"SEK","t":"2017-07","v":-40},{"c":"SEK","t":"2017-09","v":-61},{"c":"SEK","t":"2017-11","v":-64},{"c":"SEK","t":"2017-12","v":-46},{"c":"SEK","t":"2018-02","v":-85},{"c":"SEK","t":"2018-03","v":-62},{"c":"SEK","t":"2018-05","v":-48},{"c":"SEK","t":"2018-06","v":-32},{"c":"SEK","t":"2018-08","v":-50},{"c":"SEK","t":"2018-09","v":-83},{"c":"SEK","t":"2018-11","v":-52},{"c":"SEK","t":"2019-01","v":-48},{"c":"SEK","t":"2019-03","v":-12},{"c":"SEK","t":"2019-04","v":-38},{"c":"SEK","t":"2019-06","v":-24},{"c":"SEK","t":"2019-07","v":-34},{"c":"SEK","t":"2019-09","v":-51},{"c":"SEK","t":"2019-10","v":-36},{"c":"SEK","t":"2019-12","v":-12},{"c":"SEK","t":"2020-01","v":-16},{"c":"SEK","t":"2020-03","v":-103},{"c":"SEK","t":"2020-04","v":-53},{"c":"SEK","t":"2020-05","v":-24},{"c":"SEK","t":"2020-07","v":-28},{"c":"SEK","t":"2020-08","v":-36},{"c":"SEK","t":"2020-10","v":-38},{"c":"SEK","t":"2020-11","v":-58},{"c":"SEK","t":"2020-12","v":-38},{"c":"SEK","t":"2021-02","v":-32},{"c":"SEK","t":"2021-03","v":-26},{"c":"SEK","t":"2021-05","v":-24},{"c":"SEK","t":"2021-06","v":-16},{"c":"SEK","t":"2021-08","v":-16},{"c":"SEK","t":"2021-09","v":-32},{"c":"SEK","t":"2021-11","v":-81},{"c":"SEK","t":"2021-12","v":-20}
]},
"mark":{"type":"line","strokeWidth":1.8,"interpolate":"linear"},
"encoding":{
 "x":{"field":"t","type":"temporal","scale":{"domain":[{"year":2003,"month":2,"date":4},{"year":2022,"month":5,"date":15}]},
  "axis":{"title":null,"grid":false,"tickCount":{"interval":"year","step":2},"format":"%Ym%-m","labelFlush":false,"labelOverlap":false}},
 "y":{"field":"v","type":"quantitative","scale":{"domain":[-483,60],"nice":false,"zero":false},
  "axis":{"title":"CIP Deviation (in bp)","grid":true,"titleFontSize":20.5,"titleX":-78,"titleAngle":-90,"titleBaseline":"middle","titleAlign":"center","values":[0,-100,-200,-300,-400],"format":"d","labelOverlap":false}},
 "color":{"field":"c","type":"nominal","scale":{"domain":["AUD","CAD","CHF","DKK","EUR","GBP","JPY","SEK"],"range":["#8e3a3c","#8ec4ea","#8a8a8a","#ffff00","#000000","#108a10","#800080","#0000ff"]},
  "legend":{"title":null,"orient":"none","legendX":181,"legendY":494,"columns":4,"symbolType":"stroke","symbolSize":784,"symbolStrokeWidth":2,"labelFontSize":16.5,"labelOffset":14,"columnPadding":26,"rowPadding":0,"padding":0,"labelColor":"#000000"}}
}},
{"data":{"values":[{}]},"mark":{"type":"rule","color":"#a6a6a6","strokeWidth":1.5},"encoding":{"x":{"datum":{"year":2003,"month":2,"date":4},"type":"temporal"},"y":{"datum":0},"y2":{"datum":-400}}},
{"data":{"values":[{}]},"mark":{"type":"rule","color":"#a6a6a6","strokeWidth":1.5},"encoding":{"y":{"datum":-483},"x":{"datum":{"year":2004,"month":1,"date":1},"type":"temporal"},"x2":{"datum":{"year":2022,"month":1,"date":1}}}}
]
}
